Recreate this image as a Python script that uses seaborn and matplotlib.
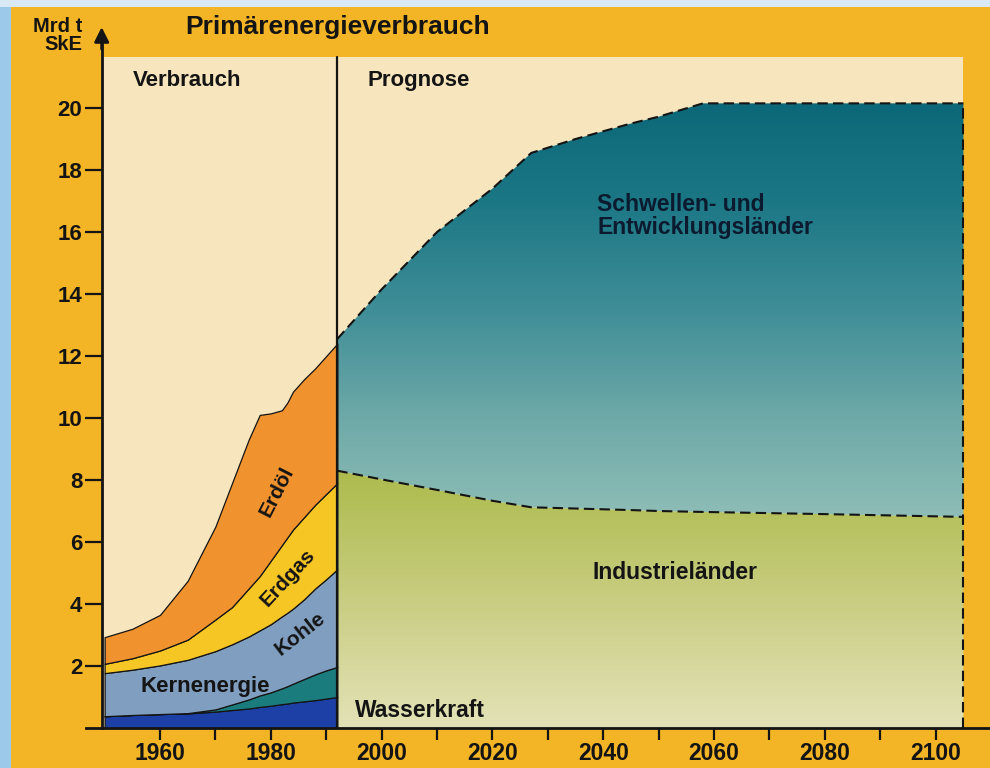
import numpy as np
import pandas as pd
import matplotlib
matplotlib.use("Agg")
import matplotlib.pyplot as plt
import seaborn as sns
from matplotlib.colors import LinearSegmentedColormap
from matplotlib.patches import Rectangle

# ---------------- data (Mrd t SKE) ----------------
years_hist = [1950, 1955, 1960, 1965, 1970, 1973, 1976, 1978, 1980, 1982, 1983, 1984, 1986, 1988, 1990, 1992]
wasserkraft = [0.38, 0.42, 0.45, 0.47, 0.53, 0.58, 0.63, 0.68, 0.72, 0.77, 0.79, 0.82, 0.86, 0.90, 0.95, 1.00]
kernenergie = [0.00, 0.00, 0.00, 0.01, 0.07, 0.18, 0.29, 0.37, 0.43, 0.51, 0.56, 0.61, 0.72, 0.83, 0.91, 0.97]
kohle = [1.39, 1.46, 1.57, 1.72, 1.88, 1.94, 2.03, 2.10, 2.20, 2.32, 2.37, 2.42, 2.57, 2.77, 2.94, 3.15]
erdgas = [0.30, 0.37, 0.48, 0.65, 1.02, 1.20, 1.55, 1.75, 2.05, 2.30, 2.43, 2.55, 2.65, 2.70, 2.75, 2.78]
erdoel = [0.86, 0.95, 1.15, 1.90, 3.00, 4.00, 4.80, 5.20, 4.75, 4.35, 4.35, 4.45, 4.45, 4.40, 4.45, 4.50]

years_prog = [1992, 2000, 2010, 2020, 2027, 2035, 2045, 2050, 2058, 2080, 2105]
industrielaender = [8.30, 8.02, 7.68, 7.33, 7.12, 7.08, 7.03, 7.00, 6.97, 6.90, 6.81]
schwellenlaender = [4.25, 6.13, 8.32, 10.07, 11.43, 11.92, 12.47, 12.72, 13.18, 13.25, 13.34]

x_ticks = list(range(1960, 2101, 10))
x_labels = [str(y) if y % 20 == 0 else "" for y in x_ticks]
y_ticks = list(range(2, 21, 2))
y_labels = [str(v) for v in y_ticks]

divider_year = 1992

# ---------------- style ----------------
sns.set_theme(style="white")
plt.rcParams["font.family"] = ["Liberation Sans", "DejaVu Sans"]
plt.rcParams["font.weight"] = "bold"

ORANGE = "#F3B526"
CREAM = "#F7E5BD"
INK = "#141414"
hist_colors = ["#1C40A6", "#1B7C7E", "#809EBF", "#F5C624", "#F0932F"]

fig = plt.figure(figsize=(9.9, 7.68), dpi=100, facecolor=ORANGE)
ax = fig.add_axes([0, 0, 1, 1])
ax.set_facecolor("none")

# light blue frame strips (page edge)
fig.patches.append(Rectangle((0, 0), 11 / 990, 1, transform=fig.transFigure,
                             facecolor="#9CC8EA", edgecolor="none", zorder=0))
fig.patches.append(Rectangle((0, 1 - 7 / 768), 1, 7 / 768, transform=fig.transFigure,
                             facecolor="#D9EAF6", edgecolor="none", zorder=0))

x_left = 1949.47
top_val = 21.65
x_end = years_prog[-1]

# cream chart area
ax.add_patch(Rectangle((x_left, 0), x_end - x_left, top_val, facecolor=CREAM,
                       edgecolor="none", zorder=0))

# ---------------- historical stacked area ----------------
ax.stackplot(years_hist, wasserkraft, kernenergie, kohle, erdgas, erdoel,
             colors=hist_colors, edgecolor=INK, linewidth=0.9, zorder=2)

# ---------------- forecast gradient areas ----------------
ind = np.array(industrielaender)
tot = ind + np.array(schwellenlaender)


def gradient_fill(x, y1, y2, stops, zorder):
    poly = ax.fill_between(x, y1, y2, facecolor="none", edgecolor="none", zorder=zorder)
    ymax = float(np.max(y2))
    cmap = LinearSegmentedColormap.from_list("g", [(min(v / ymax, 1.0), c) for v, c in stops])
    grad = np.linspace(1, 0, 400).reshape(-1, 1)
    im = ax.imshow(grad, cmap=cmap, vmin=0, vmax=1, aspect="auto", origin="upper",
                   extent=[x[0], x[-1], 0, ymax], zorder=zorder, interpolation="bilinear")
    im.set_clip_path(poly.get_paths()[0], ax.transData)


gradient_fill(years_prog, 0, ind,
              [(0, "#E3E2B7"), (2.0, "#D7D89E"), (4.5, "#C6CB7C"), (7.0, "#B5C15C"), (8.3, "#ADBB4D")], 1)
gradient_fill(years_prog, ind, tot,
              [(0, "#8FBEB7"), (7.0, "#8CBCB5"), (10.0, "#6EA9A8"), (13.5, "#3F8E97"),
               (17.0, "#1C7785"), (20.15, "#0C6878")], 1)

# dashed boundaries
line_df = pd.DataFrame({"Jahr": years_prog, "Industrie": ind, "Gesamt": tot})
sns.lineplot(data=line_df, x="Jahr", y="Industrie", ax=ax, color=INK, linewidth=1.5,
             linestyle=(0, (5, 2.5)), zorder=4)
sns.lineplot(data=line_df, x="Jahr", y="Gesamt", ax=ax, color=INK, linewidth=1.5,
             linestyle=(0, (5, 2.5)), zorder=4)
ax.plot([x_end, x_end], [0, tot[-1]], color=INK, linewidth=1.5, linestyle=(0, (5, 2.5)), zorder=4)

# divider Verbrauch / Prognose
ax.plot([divider_year, divider_year], [0, top_val], color=INK, linewidth=1.6, zorder=5)

# ---------------- axes ----------------
ax.set_xlim(1931.12, 2109.80)
ax.set_ylim(-1.290, 23.484)
for s in ["top", "right"]:
    ax.spines[s].set_visible(False)
ax.spines["left"].set_position(("data", x_left))
ax.spines["bottom"].set_position(("data", 0))
ax.spines["left"].set_bounds(0, 22.2)
ax.spines["bottom"].set_bounds(1946.7, 2109.8)
for s in ["left", "bottom"]:
    ax.spines[s].set_linewidth(2.0)
    ax.spines[s].set_color(INK)
    ax.spines[s].set_zorder(6)

ax.set_xticks(x_ticks)
ax.set_xticklabels(x_labels)
ax.set_yticks(y_ticks)
ax.set_yticklabels(y_labels)
ax.tick_params(axis="x", direction="out", length=8.5, width=1.6, pad=1.5, labelsize=16.5,
               colors=INK, bottom=True)
ax.tick_params(axis="y", direction="out", length=12, width=1.6, pad=2, labelsize=16,
               colors=INK, left=True)
ax.set_xlabel("")
ax.set_ylabel("")
ax.grid(False)

# arrow head on y axis
ax.annotate("", xy=(x_left, 22.61), xytext=(x_left, 21.9),
            arrowprops=dict(arrowstyle="-|>", color=INK, lw=2.0, mutation_scale=22,
                            shrinkA=0, shrinkB=0), zorder=7, annotation_clip=False)

# ---------------- texts ----------------
ax.text(1992.0, 22.61, "Primärenergieverbrauch", ha="center", va="center",
        fontsize=19, fontweight="bold", color=INK)
ax.text(1946.0, 22.35, "Mrd t\nSkE", ha="right", va="center", multialignment="right",
        fontsize=14.5, fontweight="bold", color=INK, linespacing=0.95)
ax.text(1955.1, 20.9, "Verbrauch", ha="left", va="center", fontsize=16, fontweight="bold", color=INK)
ax.text(1997.4, 20.9, "Prognose", ha="left", va="center", fontsize=16, fontweight="bold", color=INK)

ax.text(1981.1, 7.61, "Erdöl", ha="center", va="center", rotation=63, fontsize=15,
        fontweight="bold", color=INK, zorder=8)
ax.text(1983.1, 4.84, "Erdgas", ha="center", va="center", rotation=47, fontsize=15,
        fontweight="bold", color=INK, zorder=8)
ax.text(1985.3, 3.03, "Kohle", ha="center", va="center", rotation=38, fontsize=15,
        fontweight="bold", color=INK, zorder=8)
ax.text(1968.1, 1.35, "Kernenergie", ha="center", va="center", fontsize=16,
        fontweight="bold", color=INK, zorder=8)
ax.text(1995.2, 0.55, "Wasserkraft", ha="left", va="center", fontsize=16.5,
        fontweight="bold", color=INK, zorder=8)
ax.text(2038.9, 16.52, "Schwellen- und\nEntwicklungsländer", ha="left", va="center",
        fontsize=16.5, fontweight="bold", color="#0B1A2E", linespacing=1.0, zorder=8)
ax.text(2052.9, 5.03, "Industrieländer", ha="center", va="center", fontsize=16.5,
        fontweight="bold", color=INK, zorder=8)

fig.savefig("out.png", dpi=100, facecolor=ORANGE)
